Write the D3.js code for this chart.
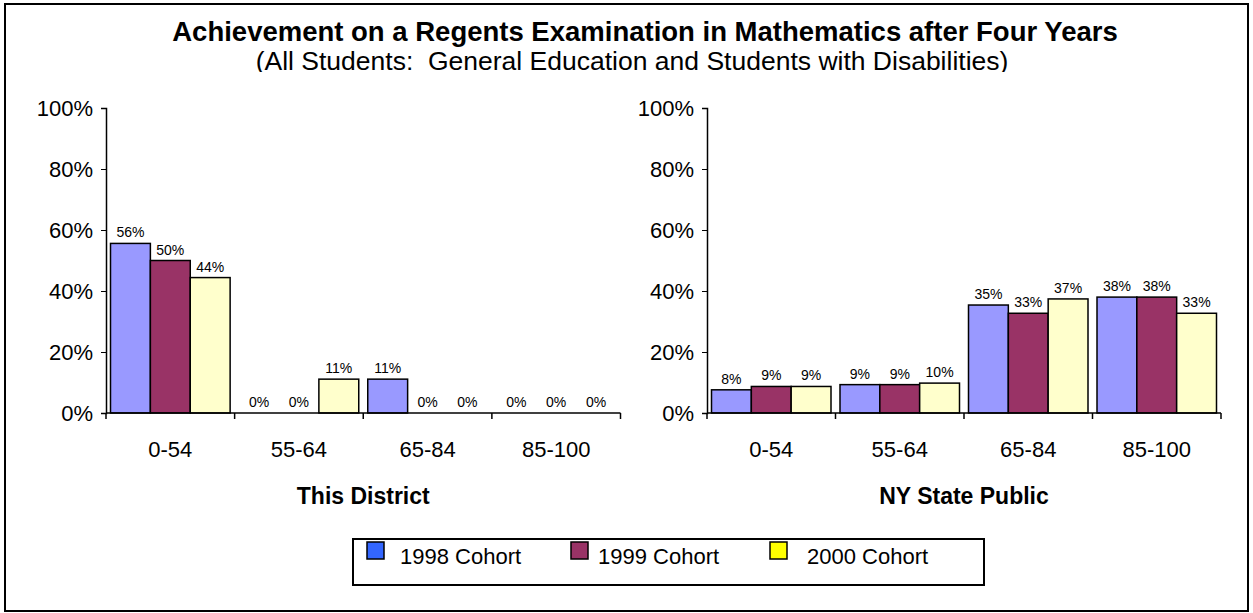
<!DOCTYPE html>
<html lang="en">
  <head>
    <meta charset="UTF-8" />
    <title>Achievement on a Regents Examination in Mathematics</title>
    <style>
      body { margin: 0; background: #fff; }
      svg { display: block; font-family: 'Liberation Sans', Arial, sans-serif; }
    </style>
  </head>
  <body>
    <svg width="1253" height="613"></svg>
    <script src="https://d3js.org/d3.v7.min.js"></script>
    <script>
      // chart data
      const categories = ['0-54', '55-64', '65-84', '85-100'];
      const cohorts = ['1998 Cohort', '1999 Cohort', '2000 Cohort'];
      const districtValues = [
        [55.6, 0, 11.1, 0],
        [50, 0, 0, 0],
        [44.4, 11.1, 0, 0]
      ];
      const stateValues = [
        [7.6, 9.3, 35.4, 38],
        [8.7, 9.3, 32.7, 38],
        [8.7, 9.8, 37.4, 32.7]
      ];
      const yTicks = [0, 20, 40, 60, 80, 100];
      const panels = [
        { title: 'This District', values: districtValues, x0: 106, x1: 620.5 },
        { title: 'NY State Public', values: stateValues, x0: 707, x1: 1221 }
      ];

      const barColors = ['#9999ff', '#993366', '#ffffcc'];
      const legendColors = ['#3366ff', '#993366', '#ffff00'];

      const svg = d3.select('svg');

      // outer frame
      svg.append('rect')
        .attr('x', 5).attr('y', 4)
        .attr('width', 1243).attr('height', 607)
        .attr('fill', 'none').attr('stroke', '#000').attr('stroke-width', 2);

      svg.append('text')
        .attr('x', 645).attr('y', 41)
        .attr('text-anchor', 'middle')
        .attr('font-size', 27.5).attr('font-weight', 'bold')
        .text('Achievement on a Regents Examination in Mathematics after Four Years');

      // the subtitle is cut off at its bottom edge in the original
      svg.append('clipPath').attr('id', 'subclip')
        .append('rect').attr('x', 0).attr('y', 0).attr('width', 1253).attr('height', 72);

      svg.append('text')
        .attr('clip-path', 'url(#subclip)')
        .attr('x', 632).attr('y', 70)
        .attr('text-anchor', 'middle')
        .attr('font-size', 26.5)
        .style('white-space', 'pre')
        .text('(All Students:  General Education and Students with Disabilities)');

      const y = d3.scaleLinear().domain([0, 100]).range([413, 108]);

      panels.forEach((p) => {
        const x = d3.scaleBand().domain(categories).range([p.x0, p.x1]);
        const inner = d3.scaleBand()
          .domain(d3.range(cohorts.length))
          .range([4.5, x.bandwidth() - 4.5]);

        const g = svg.append('g');

        // y axis
        const yAxis = g.append('g')
          .attr('transform', `translate(${p.x0},0)`)
          .call(d3.axisLeft(y).tickValues(yTicks).tickSize(5).tickPadding(8)
            .tickFormat((d) => d + '%'));
        yAxis.selectAll('text').attr('font-size', 22).attr('font-family', null).attr('dy', '0.36em');
        yAxis.select('.domain').attr('stroke-width', 1.5);

        // bars
        p.values.forEach((series, si) => {
          g.append('g').selectAll('rect')
            .data(series)
            .join('rect')
            .attr('x', (d, i) => x(categories[i]) + inner(si))
            .attr('width', inner.bandwidth())
            .attr('y', (d) => y(d))
            .attr('height', (d) => y(0) - y(d))
            .attr('fill', barColors[si])
            .attr('stroke', '#000')
            .attr('stroke-width', 1.5)
            .attr('display', (d) => (d > 0 ? null : 'none'));

          g.append('g').selectAll('text')
            .data(series)
            .join('text')
            .attr('x', (d, i) => x(categories[i]) + inner(si) + inner.bandwidth() / 2)
            .attr('y', (d) => y(d) - 6)
            .attr('text-anchor', 'middle')
            .attr('font-size', 14)
            .text((d) => Math.round(d) + '%');
        });

        // x axis with ticks between categories
        const xAxis = g.append('g').attr('transform', `translate(0,${y(0)})`);
        xAxis.append('line')
          .attr('x1', p.x0).attr('x2', p.x1)
          .attr('stroke', '#000').attr('stroke-width', 1.5);
        xAxis.selectAll('.tick')
          .data(categories.map((c) => x(c)).concat([p.x1]))
          .join('line')
          .attr('x1', (d) => d).attr('x2', (d) => d)
          .attr('y1', 0).attr('y2', 6)
          .attr('stroke', '#000').attr('stroke-width', 1.5);
        xAxis.selectAll('.cat')
          .data(categories)
          .join('text')
          .attr('x', (d) => x(d) + x.bandwidth() / 2)
          .attr('y', 44)
          .attr('text-anchor', 'middle')
          .attr('font-size', 22)
          .text((d) => d);

        g.append('text')
          .attr('x', (p.x0 + p.x1) / 2)
          .attr('y', 504)
          .attr('text-anchor', 'middle')
          .attr('font-size', 23)
          .attr('font-weight', 'bold')
          .text(p.title);
      });

      // legend
      const legend = svg.append('g');
      legend.append('rect')
        .attr('x', 353).attr('y', 539)
        .attr('width', 631).attr('height', 46)
        .attr('fill', 'none').attr('stroke', '#000').attr('stroke-width', 2);

      const swatchX = [367, 571, 770];
      const labelX = [400, 598, 807];
      cohorts.forEach((c, i) => {
        legend.append('rect')
          .attr('x', swatchX[i]).attr('y', 542)
          .attr('width', 17).attr('height', 17)
          .attr('fill', legendColors[i])
          .attr('stroke', '#000').attr('stroke-width', 1.5);
        legend.append('text')
          .attr('x', labelX[i]).attr('y', 564)
          .attr('font-size', 22)
          .text(c);
      });
    </script>
  </body>
</html>
